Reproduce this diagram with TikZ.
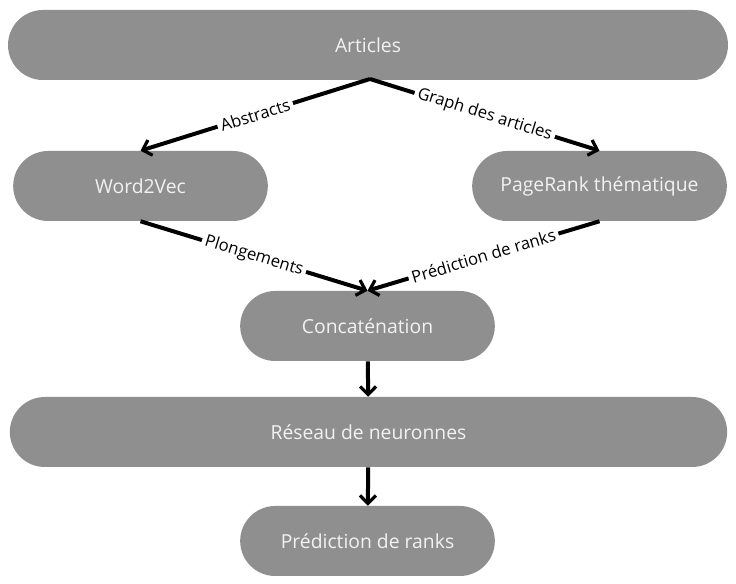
\documentclass[tikz,border=0pt]{standalone}
\usepackage{fontspec}
\setmainfont{Open Sans}
\usetikzlibrary{positioning,arrows.meta,shapes.misc}
\definecolor{boxgray}{HTML}{8F8F8F}
\definecolor{boxtext}{HTML}{F2F2F2}
\tikzset{
	box/.style={rounded rectangle, fill=boxgray, text=boxtext, minimum height=52.5pt, inner sep=0pt, font=\fontsize{14.5}{16}\selectfont},
	flow/.style={line width=3pt, -{Straight Barb[length=6pt,width=12pt,line width=2.4pt]}},
	lbl/.style={midway, sloped, fill=white, inner sep=2.5pt, text=black, font=\fontsize{12.5}{14}\selectfont}
}

\begin{document}
\begin{tikzpicture}[x=0.75pt,y=-0.75pt]
				\useasboundingbox (0,0) rectangle (736,584);
				\node[box, minimum width=540pt] (articles) at (368,45) {Articles};
				\node[box, minimum width=191pt] (w2v) at (140.5,186) {Word2Vec};
				\node[box, minimum width=191pt] (pagerank) at (599.5,186) {PageRank thématique};
				\node[box, minimum width=191pt] (concat) at (367.5,326) {Concaténation};
				\node[box, minimum width=538pt] (reseau) at (368.5,432) {Réseau de neuronnes};
				\node[box, minimum width=191pt] (pred) at (367.5,541) {Prédiction de ranks};
				% liens
				\coordinate (top) at (370,79);
				\draw[flow] (top) -- (w2v.north) node[lbl] {Abstracts};
				\draw[flow] (top) -- (pagerank.north) node[lbl] {Graph des articles};
				\draw[flow] (w2v.south) -- (concat.north) node[lbl] {Plongements};
				\draw[flow] (pagerank.south) -- (concat.north) node[lbl] {Prédiction de ranks};
				\draw[flow] (concat) -- (reseau);
				\draw[flow] (reseau) -- (pred);
			\end{tikzpicture}
\end{document}
